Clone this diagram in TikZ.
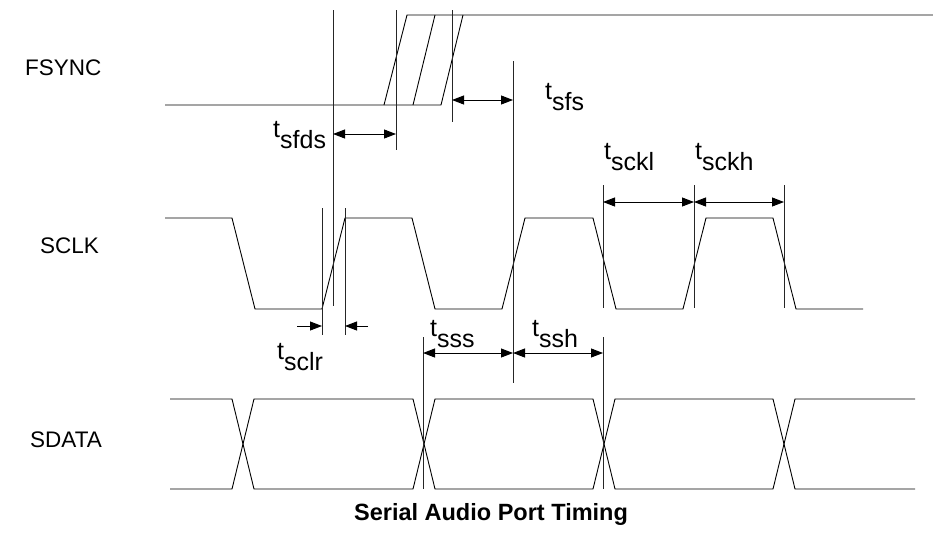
\documentclass[tikz,border=0pt]{standalone}
\usepackage{fontspec}
\setmainfont{Liberation Sans}
\usetikzlibrary{arrows.meta}

\tikzset{
  wave/.style={line width=0.9pt, line join=miter},
  mark line/.style={line width=0.9pt, black!85},
  dimarrow/.style={line width=0.9pt, {Triangle[length=12pt,width=9pt]}-{Triangle[length=12pt,width=9pt]}},
  inarrow/.style={line width=0.9pt, -{Triangle[length=12pt,width=9pt]}},
  signame/.style={font=\fontsize{22.5}{27}\selectfont, anchor=west, inner sep=0pt},
  tlabel/.style={font=\fontsize{25}{30}\selectfont, anchor=base west, inner sep=0pt},
}
\newcommand{\tsub}[1]{t\raisebox{-0.42em}{#1}}

\begin{document}
\begin{tikzpicture}[x=1pt,y=-1pt]
\useasboundingbox (0,0) rectangle (933,533);
\def\hi{218}
\def\lo{309}
\def\dtop{399}
\def\dbot{489}

% signal names
\node[signame] (fsync) at (25,68) {FSYNC};
\node[signame] (sclk) at (40,246) {SCLK};
\node[signame] (sdata) at (30,440) {SDATA};

% FSYNC
\draw[wave] (165,105) -- (441,105) -- (463,15);
\draw[wave] (384,105) -- (407,15) -- (933,15);
\draw[wave] (413,105) -- (435,15);

% SCLK
\draw[wave] (165,\hi) -- (232,\hi) -- (255,\lo) -- (322,\lo) -- (345,\hi)
  -- (412,\hi) -- (435,\lo) -- (502,\lo) -- (525,\hi) -- (593,\hi)
  -- (616,\lo) -- (683,\lo) -- (706,\hi) -- (773,\hi) -- (796,\lo) -- (863,\lo);

% SDATA
\draw[wave] (170,\dtop) -- (232,\dtop) -- (254,\dbot) -- (413,\dbot) -- (435,\dtop)
  -- (593,\dtop) -- (615,\dbot) -- (773,\dbot) -- (795,\dtop) -- (915,\dtop);
\draw[wave] (170,\dbot) -- (232,\dbot) -- (254,\dtop) -- (413,\dtop) -- (435,\dbot)
  -- (593,\dbot) -- (615,\dtop) -- (773,\dtop) -- (795,\dbot) -- (915,\dbot);

% reference lines
\draw[mark line] (333,10) -- (333,306);
\draw[mark line] (396,10) -- (396,150);
\draw[mark line] (452,10) -- (452,122);
\draw[mark line] (513,61) -- (513,383);
\draw[mark line] (322,208) -- (322,335);
\draw[mark line] (345,208) -- (345,335);
\foreach \x in {603,694,784}
  \draw[mark line] (\x,185) -- (\x,308);
\draw[mark line] (423,337) -- (423,489);
\draw[mark line] (603,337) -- (603,489);

% arrow ends
\coordinate (sfdsA) at (333,134);
\coordinate (sfdsB) at (396,134);
\coordinate (sfsA) at (452,100);
\coordinate (sfsB) at (513,100);
\coordinate (ckA) at (603,202);
\coordinate (ckB) at (694,202);
\coordinate (ckC) at (784,202);
\coordinate (ssA) at (423,353);
\coordinate (ssB) at (513,353);
\coordinate (ssC) at (603,353);
\coordinate (clrL) at (297,326);
\coordinate (clrA) at (322,326);
\coordinate (clrR) at (368,326);
\coordinate (clrB) at (345,326);

\draw[dimarrow] (sfdsA) -- (sfdsB);
\draw[dimarrow] (sfsA) -- (sfsB);
\draw[dimarrow] (ckA) -- (ckB);
\draw[dimarrow] (ckB) -- (ckC);
\draw[dimarrow] (ssA) -- (ssB);
\draw[dimarrow] (ssB) -- (ssC);
\draw[inarrow] (clrL) -- (clrA);
\draw[inarrow] (clrR) -- (clrB);

% timing labels
\node[tlabel] (tsfds) at (273,137.5) {\tsub{sfds}};
\node[tlabel] (tsfs) at (545,99.5) {\tsub{sfs}};
\node[tlabel] (tsckl) at (604,159.5) {\tsub{sckl}};
\node[tlabel] (tsckh) at (695,159.5) {\tsub{sckh}};
\node[tlabel] (tsss) at (430,336.5) {\tsub{sss}};
\node[tlabel] (tssh) at (532,336.5) {\tsub{ssh}};
\node[tlabel] (tsclr) at (277,359.5) {\tsub{sclr}};

\node[font=\bfseries\fontsize{23.5}{28}\selectfont] (title) at (491,514) {Serial Audio Port Timing};
\end{tikzpicture}
\end{document}
